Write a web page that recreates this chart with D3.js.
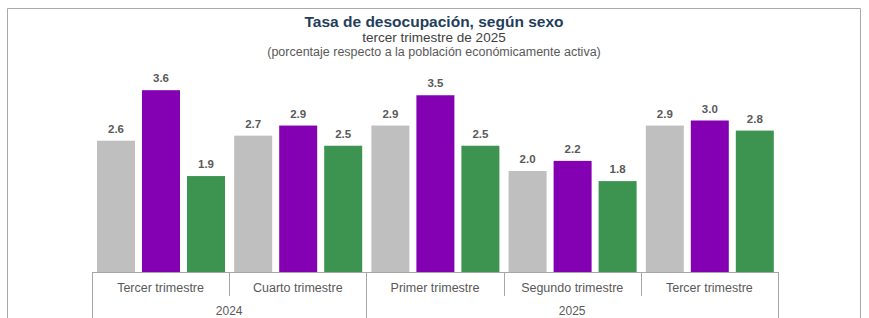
<!DOCTYPE html>
<html>
<head>
<meta charset="utf-8">
<script src="https://cdn.jsdelivr.net/npm/d3@7"></script>
<style>
  body { margin: 0; background: #fff; }
  svg { display: block; font-family: "Liberation Sans", Arial, sans-serif; }
</style>
</head>
<body>
<svg width="869" height="318"></svg>
<script>
// data
var quarters = ['Tercer trimestre', 'Cuarto trimestre', 'Primer trimestre', 'Segundo trimestre', 'Tercer trimestre'];
var years = ['2024', '2025'];
var quartersPerYear = [2, 3];
var series = ['Total', 'Mujeres', 'Hombres'];
var total = [2.6, 2.7, 2.9, 2.0, 2.9];
var mujeres = [3.6, 2.9, 3.5, 2.2, 3.0];
var hombres = [1.9, 2.5, 2.5, 1.8, 2.8];
var colors = ['#bfbfbf', '#8300b3', '#3d9450'];

var svg = d3.select('svg');

// frame
svg.append('path')
    .attr('d', 'M7.5,318 V8.5 H860.5 V318')
    .attr('fill', 'none')
    .attr('stroke', '#a9a9a9')
    .attr('stroke-width', 1);

// titles
svg.append('text')
    .attr('x', 434).attr('y', 27)
    .attr('text-anchor', 'middle')
    .attr('font-size', '15.5px')
    .attr('font-weight', 'bold')
    .attr('fill', '#1f3d5c')
    .text('Tasa de desocupación, según sexo');
svg.append('text')
    .attr('x', 434).attr('y', 42)
    .attr('text-anchor', 'middle')
    .attr('font-size', '13.5px')
    .attr('fill', '#404040')
    .text('tercer trimestre de 2025');
svg.append('text')
    .attr('x', 434).attr('y', 56)
    .attr('text-anchor', 'middle')
    .attr('font-size', '12.5px')
    .attr('fill', '#595959')
    .text('(porcentaje respecto a la población económicamente activa)');

var rows = quarters.map(function(q, i) {
    return {q: i, vals: [total[i], mujeres[i], hombres[i]]};
});

var x0 = d3.scaleBand()
    .domain(d3.range(quarters.length))
    .range([92, 778]);

var x1 = d3.scaleBand()
    .domain(series)
    .range([5, 133])
    .paddingInner(7 / 45);

var y = d3.scaleLinear()
    .domain([0, 4])
    .range([272, 70]);

var groups = svg.selectAll('g.grp')
    .data(rows)
    .enter()
    .append('g')
    .attr('class', 'grp')
    .attr('transform', function(d) { return 'translate(' + x0(d.q) + ',0)'; });

groups.selectAll('rect')
    .data(function(d) { return d.vals; })
    .enter()
    .append('rect')
    .attr('x', function(d, i) { return x1(series[i]); })
    .attr('y', function(d) { return y(d); })
    .attr('width', x1.bandwidth())
    .attr('height', function(d) { return y(0) - y(d); })
    .attr('fill', function(d, i) { return colors[i]; });

groups.selectAll('text')
    .data(function(d) { return d.vals; })
    .enter()
    .append('text')
    .attr('x', function(d, i) { return x1(series[i]) + x1.bandwidth() / 2; })
    .attr('y', function(d) { return y(d) - 8; })
    .attr('text-anchor', 'middle')
    .attr('font-size', '11.5px')
    .attr('font-weight', 'bold')
    .attr('fill', '#595959')
    .text(function(d) { return d3.format('.1f')(d); });

// category axis (two levels)
var axisColor = '#a6a6a6';
svg.append('line')
    .attr('x1', x0.range()[0]).attr('x2', x0.range()[1])
    .attr('y1', 272.5).attr('y2', 272.5)
    .attr('stroke', axisColor);

// quarter dividers and labels
var yearStarts = [0];
quartersPerYear.forEach(function(n, i) { yearStarts.push(yearStarts[i] + n); });

d3.range(quarters.length + 1).forEach(function(i) {
    var xx = (i < quarters.length ? x0(i) : x0.range()[1]);
    var isYear = yearStarts.indexOf(i) >= 0;
    svg.append('line')
        .attr('x1', Math.round(xx) + 0.5).attr('x2', Math.round(xx) + 0.5)
        .attr('y1', 272).attr('y2', isYear ? 318 : 296)
        .attr('stroke', axisColor);
});

svg.selectAll('text.qlab')
    .data(quarters)
    .enter()
    .append('text')
    .attr('class', 'qlab')
    .attr('x', function(d, i) { return x0(i) + x0.bandwidth() / 2; })
    .attr('y', 292)
    .attr('text-anchor', 'middle')
    .attr('font-size', '12.5px')
    .attr('fill', '#595959')
    .text(function(d) { return d; });

svg.selectAll('text.ylab')
    .data(years)
    .enter()
    .append('text')
    .attr('class', 'ylab')
    .attr('x', function(d, i) {
        var a = x0(yearStarts[i]);
        var b = yearStarts[i + 1] < quarters.length ? x0(yearStarts[i + 1]) : x0.range()[1];
        return (a + b) / 2;
    })
    .attr('y', 315)
    .attr('text-anchor', 'middle')
    .attr('font-size', '12px')
    .attr('fill', '#595959')
    .text(function(d) { return d; });
</script>
</body>
</html>
